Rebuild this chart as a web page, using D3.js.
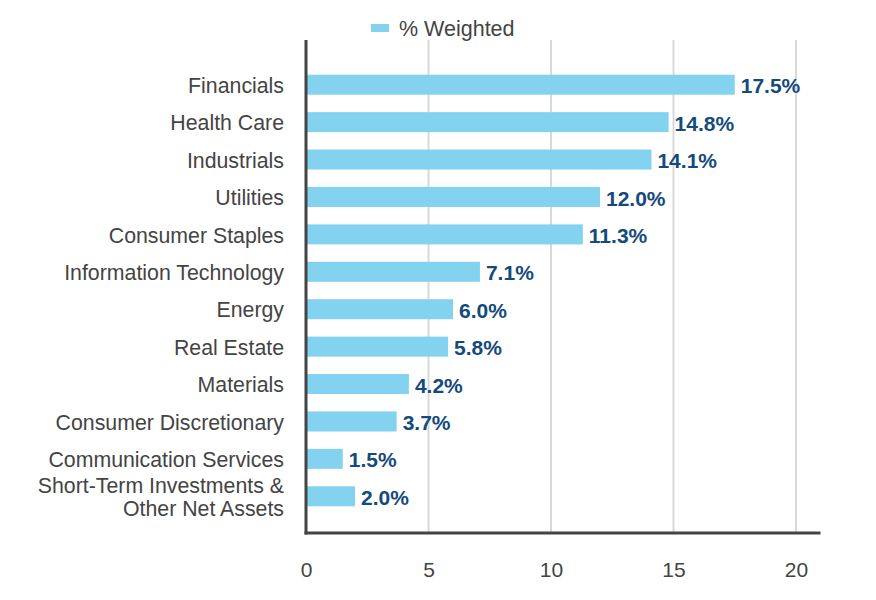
<!DOCTYPE html>
<html>
<head>
<meta charset="utf-8">
<script src="https://cdn.jsdelivr.net/npm/d3@7"></script>
<style>
html,body{margin:0;padding:0;background:#fff;}
svg{display:block;font-family:"Liberation Sans",Arial,sans-serif;}
</style>
</head>
<body>
<svg id="chart" width="876" height="600"></svg>
<script>
const categories = ["Financials","Health Care","Industrials","Utilities","Consumer Staples","Information Technology","Energy","Real Estate","Materials","Consumer Discretionary","Communication Services","Short-Term Investments &\nOther Net Assets"];
const values = [17.5,14.8,14.1,12.0,11.3,7.1,6.0,5.8,4.2,3.7,1.5,2.0];
const valueLabels = ["17.5%","14.8%","14.1%","12.0%","11.3%","7.1%","6.0%","5.8%","4.2%","3.7%","1.5%","2.0%"];
const xTicks = [0,5,10,15,20];
const seriesName = "% Weighted";

const svg = d3.select("#chart");
const x = d3.scaleLinear().domain([0,21]).range([306,820.5]);
const y = d3.scaleBand().domain(categories).range([66,515]).paddingInner(0.465).paddingOuter(0.2325);
const plotTop = 40, plotBottom = 533;

// gridlines
svg.append("g").selectAll("line").data(xTicks.filter(d=>d>0)).join("line")
  .attr("x1",d=>x(d)).attr("x2",d=>x(d)).attr("y1",plotTop).attr("y2",plotBottom)
  .attr("stroke","#d9d9d9").attr("stroke-width",2);

// bars
svg.append("g").selectAll("rect").data(values).join("rect")
  .attr("x",x(0)).attr("y",(d,i)=>y(categories[i]))
  .attr("width",d=>x(d)-x(0)).attr("height",y.bandwidth())
  .attr("fill","#83d3f0");

// value labels
svg.append("g").selectAll("text").data(values).join("text")
  .attr("x",d=>x(d)+6).attr("y",(d,i)=>y(categories[i])+y.bandwidth()/2+1)
  .attr("dy","0.36em").attr("font-size",21).attr("font-weight","bold")
  .attr("fill","#154a7c").text((d,i)=>valueLabels[i]);

// category labels
const cat = svg.append("g").selectAll("text").data(categories).join("text")
  .attr("text-anchor","end").attr("font-size",21.3).attr("fill","#444");
cat.each(function(d){
  const lines = d.split("\n");
  const cy = y(d)+y.bandwidth()/2+0.5;
  const lh = 23;
  const t = d3.select(this);
  lines.forEach((ln,k)=>{
    t.append("tspan").attr("x",284)
     .attr("y",cy + (k-(lines.length-1)/2)*lh).attr("dy","0.36em").text(ln);
  });
});

// axes lines
svg.append("line").attr("x1",x(0)).attr("x2",x(0)).attr("y1",plotTop).attr("y2",plotBottom+1.5)
  .attr("stroke","#444").attr("stroke-width",3);
svg.append("line").attr("x1",x(0)-1.5).attr("x2",x(21)).attr("y1",plotBottom).attr("y2",plotBottom)
  .attr("stroke","#444").attr("stroke-width",3);

// x tick labels
const xAxis = d3.axisBottom(x).tickValues(xTicks).tickSize(0).tickPadding(0).tickFormat(d3.format("d"));
const gx = svg.append("g").attr("transform",`translate(0,${plotBottom})`).call(xAxis);
gx.select(".domain").remove();
gx.selectAll("text").attr("font-size",21).attr("fill","#444")
  .attr("font-family","'Liberation Sans',Arial,sans-serif").attr("y",36).attr("dy","0.36em");

// legend
svg.append("rect").attr("x",371).attr("y",24).attr("width",18).attr("height",8).attr("fill","#83d3f0");
svg.append("text").attr("x",399).attr("y",28).attr("dy","0.36em").attr("font-size",21.5).attr("fill","#444").text(seriesName);
</script>
</body>
</html>
